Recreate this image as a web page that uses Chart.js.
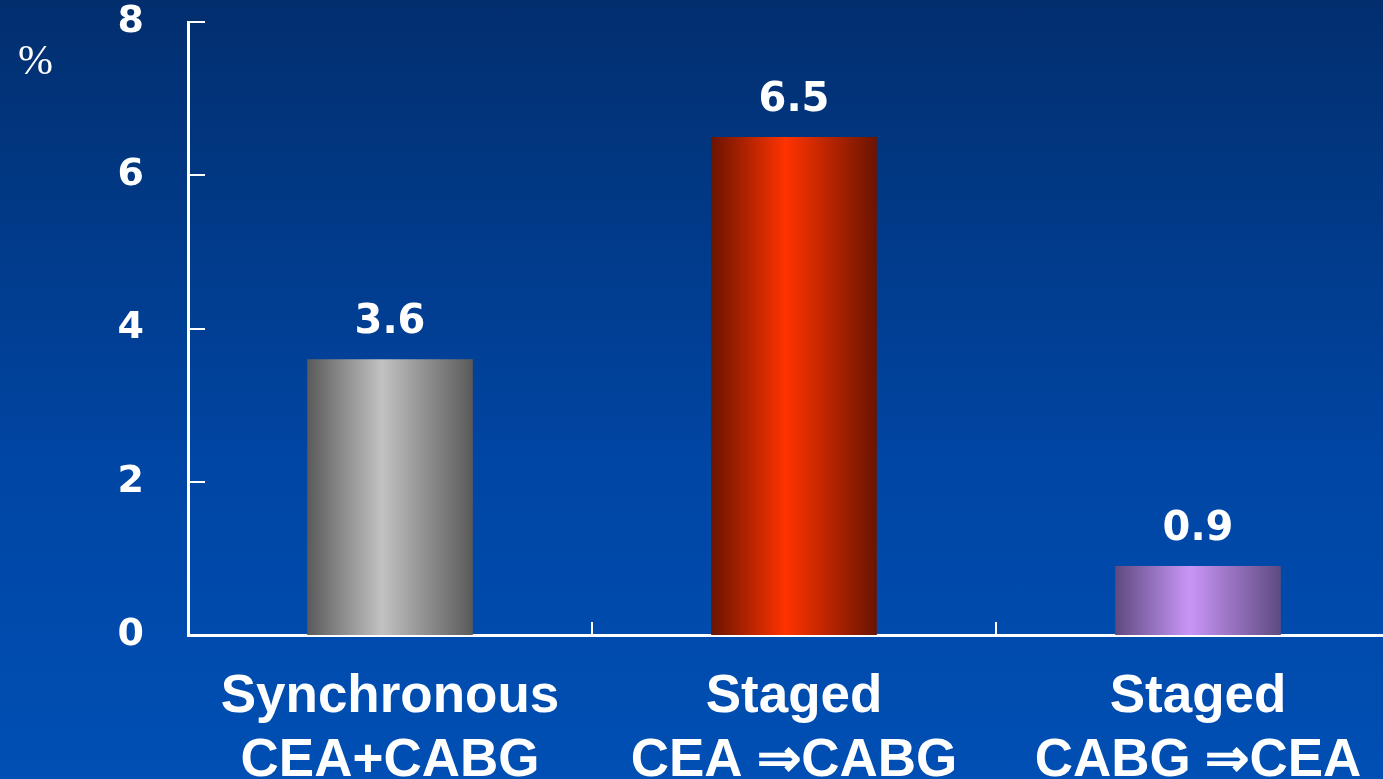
<!DOCTYPE html>
<html>
<head>
<meta charset="utf-8">
<script src="https://cdn.jsdelivr.net/npm/chart.js@4.4.1/dist/chart.umd.min.js"></script>
<style>
  html, body { margin: 0; padding: 0; overflow: hidden; }
  body {
    width: 1383px; height: 779px;
    background: linear-gradient(to bottom, #022e6e 0%, #0046a4 60%, #004fb4 100%);
  }
  #wrap { position: relative; width: 1400px; height: 779px; }
  #pct {
    position: absolute; left: 18px; top: 36px;
    font-family: "Liberation Serif", serif; font-size: 42px; color: #fff;
  }
</style>
</head>
<body>
<div id="wrap">
  <div id="pct">%</div>
  <canvas id="strokeChart" width="1400" height="779"></canvas>
</div>
<script>
// categories and values
var groups = [['Synchronous', 'CEA+CABG'], ['Staged', 'CEA \u21D2CABG'], ['Staged', 'CABG \u21D2CEA']];
var rates = [3.6, 6.5, 0.9];
var yTicks = [0, 2, 4, 6, 8];

// edge / middle colour of each bar's horizontal shading
var barEdges = ['#5a5a5a', '#6a1400', '#5e4a80'];
var barMiddles = ['#c2c2c2', '#ff3300', '#c996f8'];

var BAR_PCT = 0.41;

function barShade(c) {
  var chart = c.chart;
  var xs = chart.scales && chart.scales.x;
  var i = c.dataIndex;
  if (!xs || !chart.chartArea || i === undefined) return barMiddles[i || 0];
  var cat = xs.width / groups.length;
  var w = cat * BAR_PCT;
  var cx = xs.getPixelForValue(i);
  var g = chart.ctx.createLinearGradient(cx - w / 2, 0, cx + w / 2, 0);
  g.addColorStop(0, barEdges[i]);
  g.addColorStop(0.45, barMiddles[i]);
  g.addColorStop(1, barEdges[i]);
  return g;
}

// short tick marks pointing into the plot area
var innerTicks = {
  id: 'innerTicks',
  afterDraw: function (chart) {
    var ctx = chart.ctx, area = chart.chartArea;
    var xs = chart.scales.x, ys = chart.scales.y;
    ctx.save();
    ctx.strokeStyle = '#ffffff';
    ctx.lineWidth = 2;
    ctx.beginPath();
    yTicks.forEach(function (t) {
      var y = Math.round(ys.getPixelForValue(t));
      ctx.moveTo(area.left, y);
      ctx.lineTo(area.left + 17, y);
    });
    var cat = xs.width / groups.length;
    for (var i = 0; i < groups.length; i++) {
      var bx = Math.round(xs.getPixelForValue(i) + cat / 2);
      ctx.moveTo(bx, area.bottom);
      ctx.lineTo(bx, area.bottom - 13);
    }
    ctx.stroke();
    ctx.restore();
  }
};

// value printed above each bar
var valueLabels = {
  id: 'valueLabels',
  afterDatasetsDraw: function (chart) {
    var ctx = chart.ctx;
    var meta = chart.getDatasetMeta(0);
    ctx.save();
    ctx.fillStyle = '#ffffff';
    ctx.font = 'bold 40px "DejaVu Sans"';
    ctx.textAlign = 'center';
    ctx.textBaseline = 'alphabetic';
    meta.data.forEach(function (bar, i) {
      ctx.fillText(rates[i].toFixed(1), bar.x, bar.y - 26);
    });
    ctx.restore();
  }
};

function noPad(s) {
  s.paddingTop = 0;
  s.paddingBottom = 0;
  s.paddingLeft = 0;
  s.paddingRight = 0;
}

new Chart(document.getElementById('strokeChart'), {
  type: 'bar',
  data: {
    labels: groups,
    datasets: [{
      data: rates,
      backgroundColor: barShade,
      borderWidth: 0,
      barPercentage: BAR_PCT,
      categoryPercentage: 1
    }]
  },
  options: {
    responsive: false,
    animation: false,
    layout: { padding: { top: 22, right: 0, left: 0, bottom: 0 } },
    plugins: { legend: { display: false }, tooltip: { enabled: false } },
    scales: {
      x: {
        grid: { display: false, drawTicks: false },
        border: { color: '#ffffff', width: 3 },
        ticks: {
          color: '#ffffff',
          padding: 30,
          font: { family: '"Liberation Sans", Arial, sans-serif', size: 53, weight: 'bold', lineHeight: 1.21 }
        },
        afterFit: function (s) { s.height = 144; noPad(s); }
      },
      y: {
        min: 0,
        max: 8,
        afterBuildTicks: function (s) { s.ticks = yTicks.map(function (v) { return { value: v }; }); },
        grid: { display: false, drawTicks: false },
        border: { color: '#ffffff', width: 3 },
        ticks: {
          color: '#ffffff',
          padding: 44,
          font: { family: '"DejaVu Sans", sans-serif', size: 38, weight: 'bold', lineHeight: 1 }
        },
        afterFit: function (s) { s.width = 188; noPad(s); }
      }
    }
  },
  plugins: [innerTicks, valueLabels]
});
</script>
</body>
</html>
